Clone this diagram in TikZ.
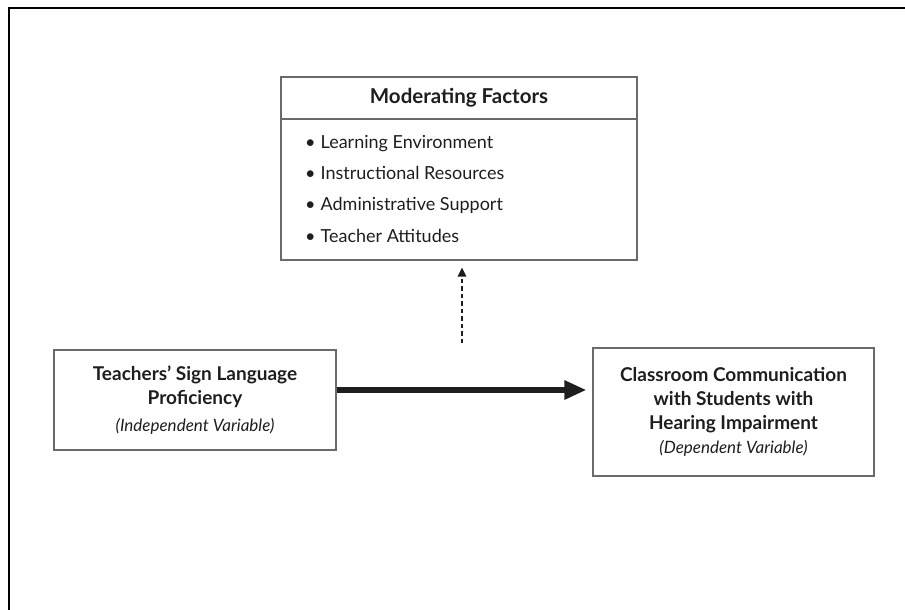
\documentclass[tikz,border=0pt]{standalone}
\usepackage{fontspec}
\setmainfont{Lato}
\usetikzlibrary{arrows.meta}
\definecolor{boxgray}{HTML}{6A6A6A}
\definecolor{ink}{HTML}{1E1E1E}
\tikzset{
  boxline/.style={draw=boxgray, line width=1.1pt, inner sep=0pt},
  vbox/.style={boxline, rectangle, align=center, text=ink,
    font=\fontsize{19}{24}\selectfont},
  itemtext/.style={anchor=base west, inner sep=0pt, text=ink,
    font=\fontsize{18}{22}\selectfont},
  frameline/.style={draw=black, line width=1.6pt},
  mainarrow/.style={draw=ink, line width=6pt, -{Triangle[length=22pt,width=18pt]}},
  modarrow/.style={draw=ink, line width=1.4pt, dash pattern=on 4.5pt off 3pt,
    -{Triangle[length=9pt,width=8.5pt]}}
}
\begin{document}
\begin{tikzpicture}[x=1pt,y=-1pt]
\useasboundingbox (0,0) rectangle (905,610);
% outer frame (cropped)
\draw[frameline] (9,610) -- (9,8) -- (905,8);

% moderating factors box
\node[boxline, minimum width=356pt, minimum height=42pt, text=ink,
  font=\fontsize{20.5}{24}\selectfont\bfseries] (modt) at (459,98) {Moderating Factors};
\node[boxline, minimum width=356pt, minimum height=141pt] (modb) at (459,189.5) {};
\node[itemtext] (i1) at (305,148) {\textbullet\hspace{5pt}Learning Environment};
\node[itemtext] (i2) at (305,179) {\textbullet\hspace{5pt}Instructional Resources};
\node[itemtext] (i3) at (305,210) {\textbullet\hspace{5pt}Administrative Support};
\node[itemtext] (i4) at (305,242) {\textbullet\hspace{5pt}Teacher Attitudes};

% independent variable
\node[vbox, minimum width=282pt, minimum height=100pt] (iv) at (195,400)
  {{\bfseries Teachers’ Sign Language}\\{\bfseries Proficiency}\\[3pt]
   {\fontsize{17}{20}\selectfont\itshape (Independent Variable)}};

% dependent variable
\node[vbox, minimum width=281pt, minimum height=128pt] (dv) at (733.5,412)
  {{\bfseries Classroom Communication}\\{\bfseries with Students with}\\
   {\bfseries Hearing Impairment}\\[0pt]
   {\fontsize{17}{20}\selectfont\itshape (Dependent Variable)}};

% arrows
\draw[mainarrow, shorten >=6pt] (iv.east |- 0,390) -- (dv.west |- 0,390);
\coordinate (ds) at (462,343);
\draw[modarrow, shorten >=7pt] (ds) -- (ds |- modb.south);
\end{tikzpicture}
\end{document}
